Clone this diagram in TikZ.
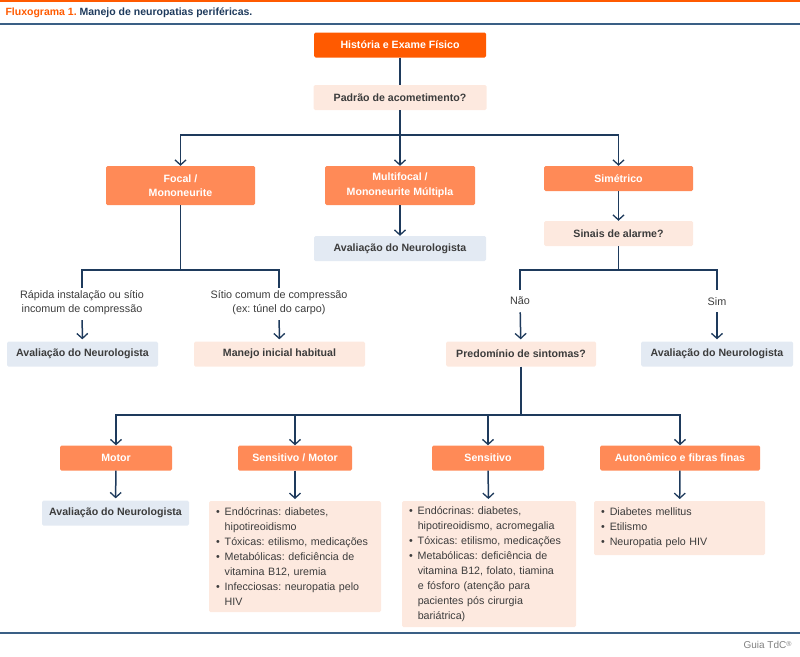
\documentclass[tikz,border=0pt]{standalone}
\usepackage{fontspec}
\setmainfont{Liberation Sans}
\frenchspacing
\usetikzlibrary{arrows.meta}
\definecolor{laranja}{HTML}{FF5A00}
\definecolor{laranjaclaro}{HTML}{FF8A57}
\definecolor{pessego}{HTML}{FDE9DF}
\definecolor{azulclaro}{HTML}{E3EAF3}
\definecolor{marinho}{HTML}{1E3A5C}
\definecolor{azulfaixa}{HTML}{3A5F85}
\definecolor{texto}{HTML}{3C3C3C}
\tikzset{
  caixa/.style={rounded corners=1.5pt, minimum height=25pt, inner sep=2pt, align=center,
    font=\fontsize{10.6}{14.5}\selectfont\bfseries},
  inicio/.style={caixa, fill=laranja, text=white},
  tipo/.style={caixa, fill=laranjaclaro, text=white},
  pergunta/.style={caixa, fill=pessego, text=texto},
  neuro/.style={caixa, fill=azulclaro, text=texto},
  lista/.style={rounded corners=1.5pt, fill=pessego, text=texto, align=left, anchor=north,
    inner xsep=7pt, inner ysep=5pt, font=\fontsize{10.7}{15}\selectfont},
  rotulo/.style={text=texto, align=center, inner sep=1pt, font=\fontsize{10.8}{14.5}\selectfont},
  liga/.style={draw=marinho, line width=1.5pt},
  seta/.style={liga, -{Straight Barb[length=5pt,width=11pt,line width=1.3pt]}}
}
\newcommand{\bul}{\textbullet\hspace{5pt}}
\newcommand{\rec}{\hphantom{\textbullet}\hspace{5pt}}
\begin{document}
\begin{tikzpicture}[x=1pt,y=-1pt]
\useasboundingbox (0,0) rectangle (800,656);
% faixas do topo e rodape
\fill[laranja] (0,0) rectangle (800,2);
\node[anchor=west, font=\fontsize{10.5}{12}\selectfont\bfseries] (titulo) at (2,13)
  {\textcolor{laranja}{Fluxograma 1.} \textcolor{marinho}{Manejo de neuropatias periféricas.}};
\draw[azulfaixa, line width=2pt] (0,24) -- (800,24);
\draw[azulfaixa, line width=1.5pt] (0,633) -- (800,633);
\node[anchor=east, text=gray, font=\fontsize{10}{11}\selectfont] (guia) at (795,645) {Guia TdC\raisebox{2pt}{\scriptsize\textregistered}};

% nivel 1
\node[inicio, minimum width=172pt] (hist) at (400,45) {História e Exame Físico};
\node[pergunta, minimum width=173pt] (padrao) at (400,97.5) {Padrão de acometimento?};
\node[tipo, minimum width=149pt, minimum height=39pt] (focal) at (180.5,185.5) {Focal /\\Mononeurite};
\node[tipo, minimum width=150pt, minimum height=39pt] (multi) at (400,185.5) {Multifocal /\\Mononeurite Múltipla};
\node[tipo, minimum width=149pt] (sim) at (618.5,178.5) {Simétrico};
\coordinate (j1) at (400,135);
\draw[liga] (hist) -- (padrao);
\draw[liga] (padrao) -- (j1);
\draw[seta] (j1) -| (focal.north);
\draw[seta] (j1) -- (multi);
\draw[seta] (j1) -| (sim.north);

% multifocal e simetrico
\node[neuro, minimum width=172pt] (avalM) at (400,248.5) {Avaliação do Neurologista};
\node[pergunta, minimum width=149pt] (alarme) at (618.5,233.5) {Sinais de alarme?};
\draw[seta] (multi) -- (avalM);
\draw[seta] (sim) -- (alarme);

% focal
\coordinate (j2) at (180.5,270);
\node[rotulo, anchor=north] (rapida) at (82,289) {Rápida instalação ou sítio\\incomum de compressão};
\node[rotulo, anchor=north] (comum) at (279,289) {Sítio comum de compressão\\(ex: túnel do carpo)};
\node[neuro, minimum width=151pt] (avalF) at (82.5,354) {Avaliação do Neurologista};
\node[pergunta, minimum width=171pt] (manejo) at (279.5,354) {Manejo inicial habitual};
\draw[liga] (focal) -- (j2);
\draw[liga, shorten >=1pt] (j2) -| (rapida.north);
\draw[liga, shorten >=1pt] (j2) -| (comum.north);
\draw[seta, shorten <=4pt, shorten >=2pt] (rapida) -- (avalF);
\draw[seta, shorten <=4pt, shorten >=2pt] (comum) -- (manejo);

% sinais de alarme
\coordinate (j3) at (618.5,270);
\node[rotulo, anchor=north] (nao) at (520,296) {Não};
\node[rotulo, anchor=north] (simal) at (717,296) {Sim};
\node[pergunta, minimum width=150pt] (predom) at (521,354) {Predomínio de sintomas?};
\node[neuro, minimum width=152pt] (avalS) at (717,354) {Avaliação do Neurologista};
\draw[liga] (alarme) -- (j3);
\draw[liga, shorten >=6pt] (j3) -| (nao.north);
\draw[liga, shorten >=6pt] (j3) -| (simal.north);
\draw[seta, shorten <=6pt, shorten >=2pt] (nao) -- (predom);
\draw[seta, shorten <=6pt, shorten >=2pt] (simal) -- (avalS);

% predominio de sintomas
\coordinate (j4) at (521,415);
\node[tipo, minimum width=112pt] (motor) at (116,458) {Motor};
\node[tipo, minimum width=114pt] (sensmot) at (295,458) {Sensitivo / Motor};
\node[tipo, minimum width=112pt] (sens) at (488,458) {Sensitivo};
\node[tipo, minimum width=160pt] (auto) at (680,458) {Autonômico e fibras finas};
\draw[liga] (predom) -- (j4);
\draw[seta] (j4) -| (motor.north);
\draw[seta] (j4) -| (sensmot.north);
\draw[seta] (j4) -| (sens.north);
\draw[seta] (j4) -| (auto.north);

% desfechos
\node[neuro, minimum width=147pt] (avalMo) at (115.5,513) {Avaliação do Neurologista};
\node[lista, text width=158pt, minimum height=111pt] (lsm) at (295,501)
  {\bul Endócrinas: diabetes,\\ \rec hipotireoidismo\\ \bul Tóxicas: etilismo, medicações\\
   \bul Metabólicas: deficiência de\\ \rec vitamina B12, uremia\\
   \bul Infecciosas: neuropatia pelo\\ \rec HIV};
\node[lista, text width=160pt, minimum height=126pt] (lse) at (489,501)
  {\bul Endócrinas: diabetes,\\ \rec hipotireoidismo, acromegalia\\ \bul Tóxicas: etilismo, medicações\\
   \bul Metabólicas: deficiência de\\ \rec vitamina B12, folato, tiamina\\
   \rec e fósforo (atenção para\\ \rec pacientes pós cirurgia\\ \rec bariátrica)};
\node[lista, text width=157pt, minimum height=54pt] (lau) at (679.5,501)
  {\bul Diabetes mellitus\\ \bul Etilismo\\ \bul Neuropatia pelo HIV};
\draw[seta, shorten >=2pt] (motor) -- (avalMo);
\draw[seta, shorten >=2pt] (sensmot) -- (lsm);
\draw[seta, shorten >=2pt] (sens) -- (lse);
\draw[seta, shorten >=2pt] (auto) -- (lau);
\end{tikzpicture}
\end{document}
